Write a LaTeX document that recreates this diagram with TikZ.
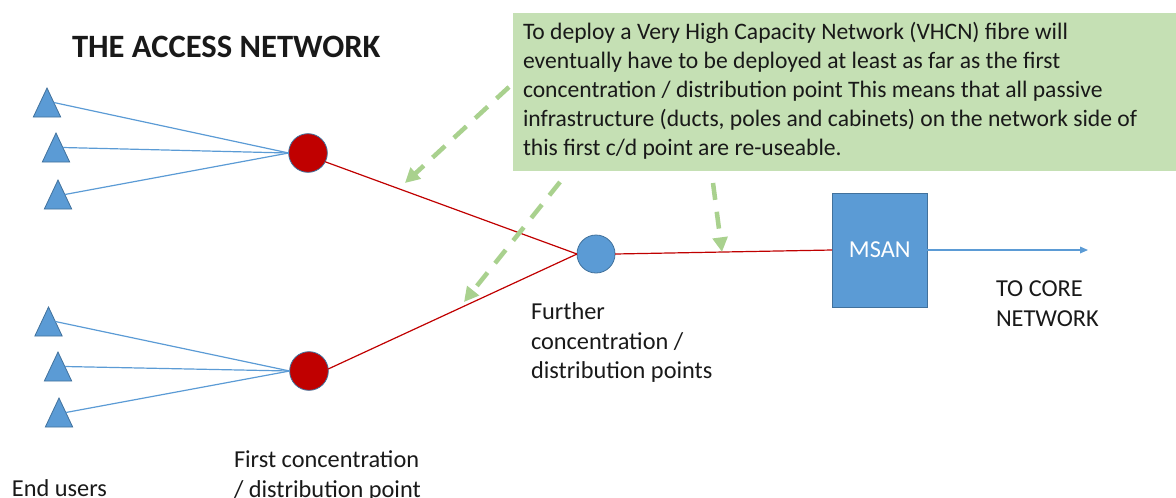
\documentclass[tikz,border=0pt]{standalone}
\usepackage{fontspec}
\setmainfont{Carlito}
\usetikzlibrary{shapes.geometric,arrows.meta}
\definecolor{bluefill}{HTML}{5B9BD5}
\definecolor{blueedge}{HTML}{41719C}
\definecolor{redfill}{HTML}{C00000}
\definecolor{boxgreen}{HTML}{C5E0B4}
\definecolor{dashgreen}{HTML}{A9D18E}
\tikzset{
  user/.style={isosceles triangle,isosceles triangle stretches=true,shape border rotate=90,
    minimum height=21.75pt,minimum width=20.5pt,inner sep=0pt,outer sep=0pt,anchor=apex,
    fill=bluefill,draw=blueedge,line width=0.6pt},
  redpoint/.style={circle,minimum size=29pt,inner sep=0pt,outer sep=0pt,fill=redfill,draw=blueedge,line width=0.6pt},
  bluepoint/.style={circle,minimum size=28.5pt,inner sep=0pt,outer sep=0pt,fill=bluefill,draw=blueedge,line width=0.6pt},
  msanbox/.style={rectangle,minimum width=71.5pt,minimum height=85.5pt,inner sep=0pt,outer sep=0pt,fill=bluefill,draw=blueedge,line width=0.6pt,text=white},
  bluelink/.style={draw=bluefill,line width=0.9pt},
  redlink/.style={draw=redfill,line width=0.9pt},
  greenarrow/.style={draw=dashgreen,line width=3.4pt,dash pattern=on 12.75pt off 9pt,-{Triangle[length=11pt,width=11pt]}},
  label/.style={font=\fontsize{18.25pt}{22pt}\selectfont,align=left,anchor=north west,inner sep=0pt,outer sep=0pt,text=black!90},
}
\begin{document}
\begin{tikzpicture}[x=0.75pt,y=-0.75pt]
\useasboundingbox (0,0) rectangle (1176,497);
\node[user] (t1) at (47,88) {};
\node[user] (t2) at (56,133) {};
\node[user] (t3) at (58,180) {};
\node[user] (t4) at (48.5,307) {};
\node[user] (t5) at (58,352) {};
\node[user] (t6) at (59,398) {};
\node[redpoint] (c1) at (308,153) {};
\node[redpoint] (c2) at (309,371) {};
\node[bluepoint] (c3) at (596,254) {};
\node[msanbox] (msan) at (879.75,250) {\fontsize{18.25pt}{22pt}\selectfont MSAN};
\coordinate (core) at (1088,250);
\foreach \a/\b in {t1/c1,t2/c1,t3/c1,t4/c2,t5/c2,t6/c2}
  \draw[bluelink] (\a.right side) -- (\b.west);
\draw[redlink] (c1.-27) -- (c3.west);
\draw[redlink] (c2.6) -- (c3.west);
\draw[redlink] (c3.east) -- (msan.west);
\draw[bluelink,-{Triangle[length=6pt,width=5pt]}] (msan.east) -- (core);
\node[rectangle,fill=boxgreen,inner sep=0pt,outer sep=0pt,anchor=north west,
  minimum width=497.25pt,minimum height=118.5pt] (note) at (513,13) {};
\node[label,font=\fontsize{17.7pt}{21.75pt}\selectfont] (notetext) at (523,22) {To deploy a Very High Capacity Network (VHCN) fibre will\\
eventually have to be deployed at least as far as the first\\
concentration / distribution point This means that all passive\\
infrastructure (ducts, poles and cabinets) on the network side of\\
this first c/d point are re-useable.};
\coordinate (a1s) at (509,87);
\coordinate (a1e) at (405,183);
\coordinate (a2s) at (560,182);
\coordinate (a2e) at (464,302);
\coordinate (a3s) at (713,183);
\coordinate (a3e) at (722,252);
\draw[greenarrow] (a1s) -- (a1e);
\draw[greenarrow] (a2s) -- (a2e);
\draw[greenarrow] (a3s) -- (a3e);
\node[label,font=\fontsize{24.45pt}{28pt}\selectfont\bfseries] (title) at (72,36) {THE ACCESS NETWORK};
\node[label] (further) at (531,303) {Further\\concentration /\\distribution points};
\node[label] (core label) at (996,281) {TO CORE\\NETWORK};
\node[label] (first) at (234,451) {First concentration\\/ distribution point};
\node[label] (end) at (12,480) {End users};
\end{tikzpicture}
\end{document}
